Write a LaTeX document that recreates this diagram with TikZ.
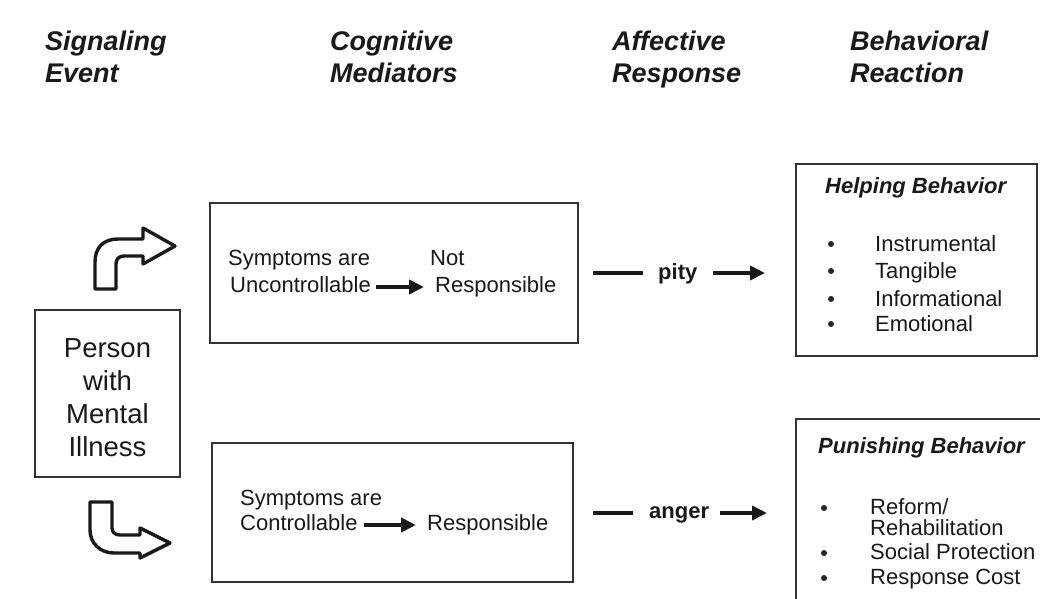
\documentclass[tikz,border=0pt]{standalone}
\usepackage{fontspec}
\setmainfont{Liberation Sans}
\usetikzlibrary{arrows.meta,calc}
\begin{document}
\begin{tikzpicture}[x=1pt,y=-1pt,
  boxframe/.style={draw=black!80, line width=2.2pt, inner sep=0pt},
  head/.style={font=\fontsize{27}{32}\selectfont\bfseries\itshape, anchor=north west, align=left, inner sep=0pt, text=black!90},
  txt/.style={font=\fontsize{22}{26}\selectfont, anchor=base west, inner sep=0pt, text=black!90},
  btxt/.style={txt, font=\fontsize{22}{26}\selectfont\bfseries},
  ttl/.style={txt, font=\fontsize{22}{26}\selectfont\bfseries\itshape},
  ptxt/.style={font=\fontsize{27.5}{33}\selectfont, align=center, inner sep=0pt, text=black!90},
  arr/.style={draw=black!90, line width=3.8pt, -{Triangle[length=15pt,width=14pt]}},
  bar/.style={draw=black!90, line width=4.2pt},
  bigarrow/.style={draw=black!90, line width=3.4pt, line join=round, fill=white},
  dot/.style={fill=black!85}
]
\useasboundingbox (0,0) rectangle (1040,598);
\fill[white] (0,0) rectangle (1040,598);

% headers
\node[head] (h1) at (45,31) {Signaling\\Event};
\node[head] (h2) at (330,31) {Cognitive\\Mediators};
\node[head] (h3) at (612,31) {Affective\\Response};
\node[head] (h4) at (850,31) {Behavioral\\Reaction};

% person box
\node[boxframe, minimum width=145, minimum height=167] (person) at (107.5,393.5) {};
\node[ptxt] (persontext) at (107.5,398) {Person\\with\\Mental\\Illness};

% curved arrows
\draw[bigarrow] (95,289) -- (95,262) .. controls (95,248) and (103,239) .. (118,239)
  -- (143,239) -- (143,228) -- (175,246) -- (143,264) -- (143,256) -- (124,256)
  .. controls (119,256) and (116,259) .. (116,264) -- (116,289) -- cycle;
\draw[bigarrow] (90,502) -- (112,502) -- (112,528) .. controls (112,532) and (115,535) .. (120,535)
  -- (140,535) -- (140,528) -- (170,543) -- (140,558) -- (140,553) -- (114,553)
  .. controls (100,553) and (90,543) .. (90,530) -- cycle;

% cognitive boxes
\node[boxframe, minimum width=368, minimum height=140] (topbox) at (394,273) {};
\node[txt] (s1) at (228,265) {Symptoms are};
\node[txt] (u1) at (230,292) {Uncontrollable};
\node[txt] (n1) at (430,265) {Not};
\node[txt] (r1) at (435,292) {Responsible};
\draw[arr] ($(u1.base east)+(5,-5)$) -- ($(r1.base west)+(-11,-5)$);

\node[boxframe, minimum width=361, minimum height=139] (botbox) at (392.5,512.5) {};
\node[txt] (s2) at (240,505) {Symptoms are};
\node[txt] (c2) at (240,530) {Controllable};
\node[txt] (r2) at (427,530) {Responsible};
\draw[arr] ($(c2.base east)+(6,-5)$) -- ($(r2.base west)+(-11,-5)$);

% affective responses
\node[btxt] (pity) at (658,279) {pity};
\coordinate (pityend) at (765,273);
\draw[bar] ($(topbox.east)+(14,0)$) -- ($(pity.base west)+(-15,-6)$);
\draw[arr] ($(pity.base east)+(15,-6)$) -- (pityend);

\node[btxt] (anger) at (649,518) {anger};
\coordinate (angerend) at (767,513);
\draw[bar] ($(botbox.east)+(19,0.5)$) -- ($(anger.base west)+(-16,-5)$);
\draw[arr] ($(anger.base east)+(11,-5)$) -- (angerend);

% helping box
\node[boxframe, anchor=north west, minimum width=241, minimum height=192] (help) at (795,163) {};
\node[ttl] (helpt) at (825,193) {Helping Behavior};
\node[txt] (i1) at (875,251) {Instrumental};
\node[txt] (i2) at (875,278) {Tangible};
\node[txt] (i3) at (875,306) {Informational};
\node[txt] (i4) at (875,331) {Emotional};
\foreach \yy in {244,271,299,324} \fill[dot] (831,\yy) circle (3);

% punishing box
\node[boxframe, anchor=north west, minimum width=262, minimum height=200] (punish) at (795,418) {};
\node[ttl] (punt) at (818,453) {Punishing Behavior};
\node[txt] (p1) at (870,514) {Reform/};
\node[txt] (p2) at (870,535) {Rehabilitation};
\node[txt] (p3) at (870,559) {Social Protection};
\node[txt] (p4) at (870,584) {Response Cost};
\foreach \yy in {508,553,578} \fill[dot] (824,\yy) circle (3);
\end{tikzpicture}
\end{document}
